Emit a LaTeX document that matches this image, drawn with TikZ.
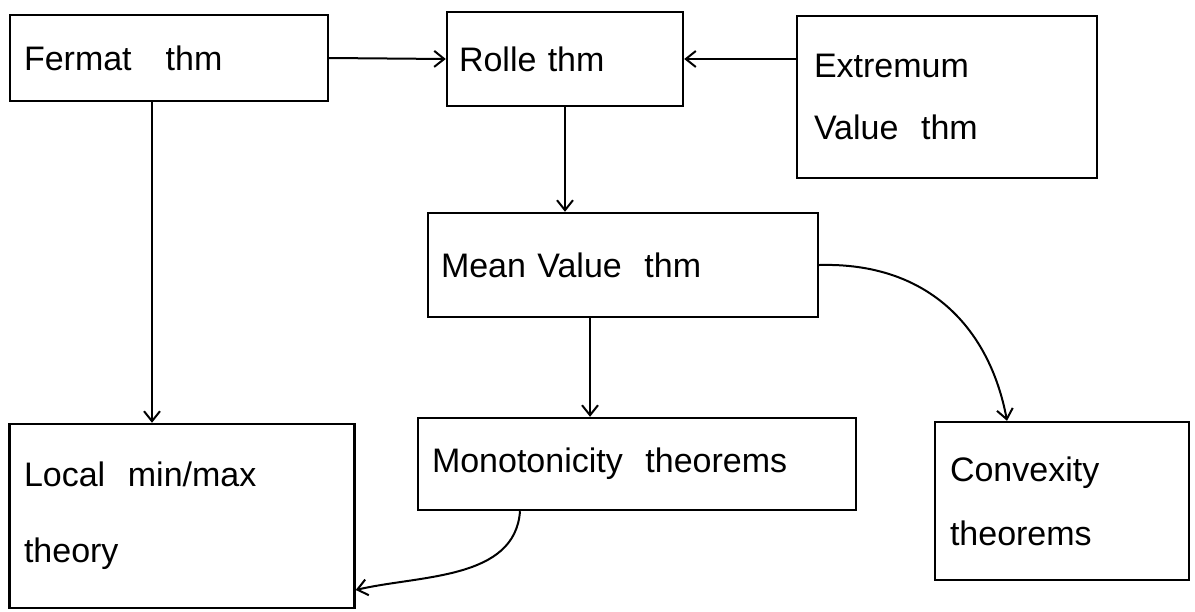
\documentclass[tikz,border=0pt]{standalone}
\usepackage{fontspec}
\setmainfont{Liberation Sans}
\usetikzlibrary{arrows.meta}
\begin{document}
\begin{tikzpicture}[x=1pt,y=-1pt,
  box/.style={draw,line width=2.4pt,inner sep=0pt,font=\fontsize{34}{40}\selectfont,align=left},
  conn/.style={line width=2pt,-{Straight Barb[length=10pt,width=16pt]}}]
\useasboundingbox (0,0) rectangle (1195,611);
\node[box,minimum width=318pt,minimum height=86pt,text width=290pt] (fermat) at (169,58) {Fermat\ \ \ thm};
\node[box,minimum width=236pt,minimum height=94pt,text width=212pt] (rolle) at (565,59) {Rolle thm};
\node[box,minimum width=300pt,minimum height=162pt,text width=266pt] (ext) at (947,97) {Extremum\\[22pt]Value\ \ thm};
\node[box,minimum width=390pt,minimum height=104pt,text width=364pt] (mvt) at (623,265) {Mean Value\ \ thm};
\node[box,minimum width=345pt,minimum height=184pt,text width=316pt] (local) at (182,516) {Local\ \ min/max\\[36pt]theory};
\node[box,minimum width=438pt,minimum height=92pt,text width=410pt] (mono) at (637,464) {Monotonicity\ \ theorems};
\node[box,minimum width=254pt,minimum height=158pt,text width=224pt] (conv) at (1062,501) {Convexity\\[24pt]theorems};
\draw[conn] (fermat.east) -- (rolle.west);
\draw[conn] (ext.west |- rolle.east) -- (rolle.east);
\draw[conn] (rolle.south) -- (mvt.north -| rolle.south);
\draw[conn] (fermat.south -| 152,0) -- (local.north -| 152,0);
\draw[conn] (mvt.south -| 590,0) -- (mono.north -| 590,0);
\draw[conn] (mvt.east) .. controls (930,262) and (990,330) .. (conv.north -| 1007,0);
\draw[conn] (mono.south -| 520,0) .. controls (515,580) and (420,575) .. (local.east |- 0,590);
\end{tikzpicture}
\end{document}
